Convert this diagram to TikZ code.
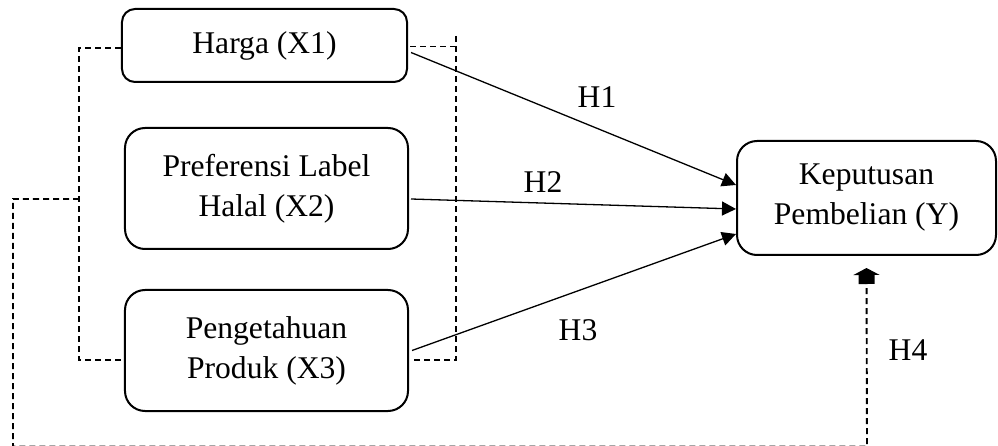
\documentclass[tikz,border=0pt]{standalone}
\usepackage{fontspec}
\setmainfont{Liberation Serif}
\usetikzlibrary{arrows.meta}
\begin{document}
\begin{tikzpicture}[x=1bp,y=-1bp,
  varbox/.style={draw,line width=2bp,rounded corners=#1,inner sep=0pt,align=center,
    font=\fontsize{31.6bp}{40bp}\selectfont},
  lbl/.style={inner sep=0pt,font=\fontsize{31.6bp}{40bp}\selectfont},
  arr/.style={line width=1.3bp,-{Triangle[length=14bp,width=14bp]}},
  dsh/.style={line width=1.9bp,dash pattern=on 6bp off 4bp}]
\useasboundingbox (0,0) rectangle (998,446);
\node[varbox=13bp,minimum width=285bp,minimum height=73bp] (x1) at (264.5,45.5) {Harga (X1)};
\node[varbox=20bp,minimum width=283bp,minimum height=121bp] (x2) at (266.5,188.5) {Preferensi Label\\Halal (X2)};
\node[varbox=20bp,minimum width=283bp,minimum height=121bp] (x3) at (266.5,350.5) {Pengetahuan\\Produk (X3)};
\node[varbox=20bp,minimum width=259bp,minimum height=114bp] (y) at (866.5,198) {Keputusan\\Pembelian (Y)};
% coordinates
\coordinate (lt) at (79,48);
\coordinate (lm) at (79,199);
\coordinate (lb) at (79,360);
\coordinate (rt) at (456,36);
\coordinate (rm) at (456,46.5);
\coordinate (rb) at (456,360);
\coordinate (ol) at (13,199);
\coordinate (obl) at (13,446.6);
\coordinate (obr) at (867,446.6);
% dashed brackets
\draw[dsh] (x1.west |- lt) -- (lt) -- (lb) -- (x3.west |- lb);
\draw[dsh] ([xshift=2bp]x1.east |- rm) -- (rm);
\draw[dsh] (rt) -- (rb) -- ([xshift=1bp]x3.east |- rb);
\draw[dsh,-{Rectangle[length=9bp 0 0,width=16bp 0 0] Triangle[length=7bp 0 0,width=26bp 0 0]}]
  (lm) -- (ol) -- (obl) -- (obr) -- ([yshift=-12bp]y.south);
% solid arrows
\draw[arr] ([xshift=3bp,yshift=-7bp]x1.east) -- ([yshift=13bp]y.west);
\draw[arr] ([xshift=2bp,yshift=-10.5bp]x2.east) -- ([yshift=-11bp]y.west);
\draw[arr] ([xshift=3bp,yshift=0bp]x3.east) -- ([yshift=-36bp]y.west);
\node[lbl] (h1) at (597,97) {H1};
\node[lbl] (h2) at (543,182) {H2};
\node[lbl] (h3) at (578,330) {H3};
\node[lbl] (h4) at (908,350) {H4};
\end{tikzpicture}
\end{document}
